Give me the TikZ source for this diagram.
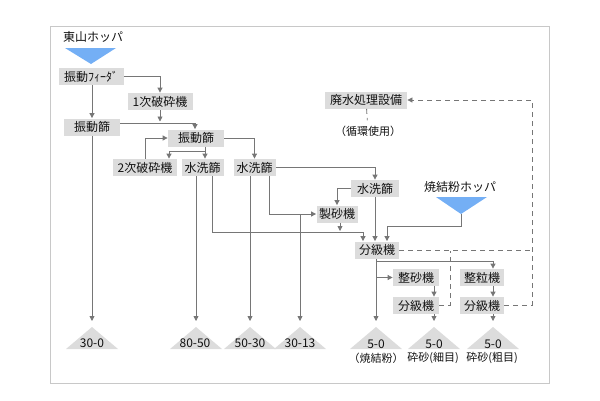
\documentclass[tikz,border=0pt]{standalone}
\usepackage{fontspec}
\setmainfont{Noto Sans CJK JP}
\usepackage{xcolor}
\usepackage{tikz}
\usetikzlibrary{arrows.meta,calc}

\definecolor{boxgray}{HTML}{DCDCDC}
\definecolor{linegray}{HTML}{767676}
\definecolor{framegray}{HTML}{C8C8C8}
\definecolor{hopblue}{HTML}{74AFF5}
\definecolor{txt}{HTML}{111111}

\tikzset{
  box/.style={fill=boxgray, text=txt, inner xsep=2.5pt, inner ysep=0pt, minimum height=17pt, font=\fontsize{12}{13}\selectfont},
  lbl/.style={text=txt, inner sep=1pt, font=\fontsize{12}{13}\selectfont},
  note/.style={text=txt, inner sep=1pt, font=\fontsize{11}{12}\selectfont},
  hv/.style={to path={-| (\tikztotarget)}},
  vh/.style={to path={|- (\tikztotarget)}},
  dashline/.style={dash pattern=on 5pt off 4pt}
}

\begin{document}
\begin{tikzpicture}[x=1pt, y=-1pt, >={Triangle[length=5pt,width=5pt]}, line width=0.8pt, color=linegray, node distance=28pt]
      \useasboundingbox (0,0) rectangle (600,400);
      \draw[framegray, line width=0.8pt] (50,26) rectangle (549,383);

      \node[lbl] (hop1) at (93,37) {東山ホッパ};
      \fill[hopblue] (65,48) -- (116,48) -- (91,64) -- cycle;
      \node[box, minimum width=65pt] (feeder) at (91,76.5) {振動ﾌｨｰﾀﾞ};
      \node[box, minimum width=65pt] (crush1) at (160,101.5) {1次破砕機};
      \node[box, minimum width=56pt] (scr1) at (92,127) {振動篩};
      \node[box, minimum width=56pt] (scr2) at (196,138) {振動篩};
      \node[box, minimum width=64pt] (crush2) at (145,167.5) {2次破砕機};
      \node[box, minimum width=42pt] (wash1) at (202.5,167.5) {水洗篩};
      \node[box, minimum width=42pt] (wash2) at (254.5,167.5) {水洗篩};
      \node[box, minimum width=48pt] (wash3) at (375,188.5) {水洗篩};
      \node[box, minimum width=40pt] (sand) at (337,214) {製砂機};
      \node[box, minimum width=44pt] (cls1) at (377,250) {分級機};
      \node[box, minimum width=82pt] (waste) at (366,100) {廃水処理設備};
      \node[note] (reuse) at (368,131) {（循環使用）};
      \node[lbl] (hop2) at (460,187) {焼結粉ホッパ};
      \fill[hopblue] (436,197) -- (487,197) -- (461,214) -- cycle;
      \node[box, minimum width=46pt] (shape1) at (416,277.5) {整砂機};
      \node[box, minimum width=44pt] (shape2) at (482,277.5) {整粒機};
      \node[box, minimum width=46pt] (cls2) [below of=shape1] {分級機};
      \node[box, minimum width=44pt] (cls3) [below of=shape2] {分級機};

      \foreach \n/\x in {1/92,2/196,3/250,4/300,5/376,6/434,7/493} {
        \fill[boxgray] (\x-26,349) -- (\x,327) -- (\x+26,349) -- cycle;
        \coordinate (t\n) at (\x,321);
      }
      \node[lbl] (p1) at (92,343) {30-0};
      \node[lbl] (p2) at (195,343) {80-50};
      \node[lbl] (p3) at (250,343) {50-30};
      \node[lbl] (p4) at (300,343) {30-13};
      \node[lbl] (p5) at (376,344) {5-0};
      \node[lbl] (p6) at (434,344) {5-0};
      \node[lbl] (p7) at (493,344) {5-0};
      \node[note] (n5) at (376,358) {（焼結粉）};
      \node[note] (n6) at (433,358) {砕砂(細目)};
      \node[note] (n7) at (492,358) {砕砂(粗目)};

      \coordinate (tip2) at (461,214);
      \coordinate (j1) at (160,123);
      \coordinate (w1) at ([xshift=2.5pt]wash1.north);
      \coordinate (j2) at (205,151);
      \coordinate (j3) at (340,231);
      \coordinate (c1) at ([xshift=-14pt]cls1.north);
      \coordinate (c2) at ([xshift=-2pt]cls1.north);
      \coordinate (c3) at ([xshift=10pt]cls1.north);
      \coordinate (j5) at (376,261);
      \coordinate (dx) at (532,100);
      \coordinate (dm) at (450,251);

      \path[->]
      (feeder) edge[hv] (crush1)
      (feeder.south -| scr1) edge (scr1)
      (crush1) edge[shorten >=1.5pt] (j1)
      ([yshift=4pt]scr1.east) edge[hv] ([xshift=-1pt]scr2.north)
      (scr1) edge (t1)
      (crush2) edge[vh] (scr2)
      (scr2.south -| w1) edge (w1)
      (j2) edge[hv] ([xshift=24pt]crush2.north)
      (scr2) edge[hv] (wash2)
      ([xshift=-6.5pt]wash1.south) edge (t2)
      ([xshift=-4.5pt]wash2.south) edge (t3)
      ([xshift=14.5pt]wash2.south) edge[vh] (sand)
      (t4 |- sand) edge (t4)
      (wash2) edge[hv] (wash3)
      (wash3) edge[hv] (sand)
      (wash3) edge (c2)
      ([xshift=3pt]sand.south) edge (j3)
      (cls1.south -| t5) edge (t5)
      (j5) edge[hv] ([xshift=11pt]shape2.north)
      (shape1 -| t5) edge (shape1)
      ([xshift=18pt]shape1.south) edge ([xshift=18pt]cls2.north)
      (cls2.south -| t6) edge (t6)
      ([xshift=11pt]shape2.south) edge ([xshift=11pt]cls3.north)
      (cls3.south -| t7) edge (t7);

      \draw[->] ([xshift=9.5pt]wash1.south) |- ($(c1)+(0,-8.5)$) -- (c1);
      \draw[->] (tip2) |- ($(c3)+(0,-14.5)$) -- (c3);

      \draw[dashline] (cls1) -- (cls1 -| dx);
      \draw[dashline, ->] (cls3) -| (dx) -- (waste);
      \draw[dashline] (cls2) -| (dm);
      \draw[dashline, shorten >=4pt] (waste) -- (reuse);
    \end{tikzpicture}
\end{document}
